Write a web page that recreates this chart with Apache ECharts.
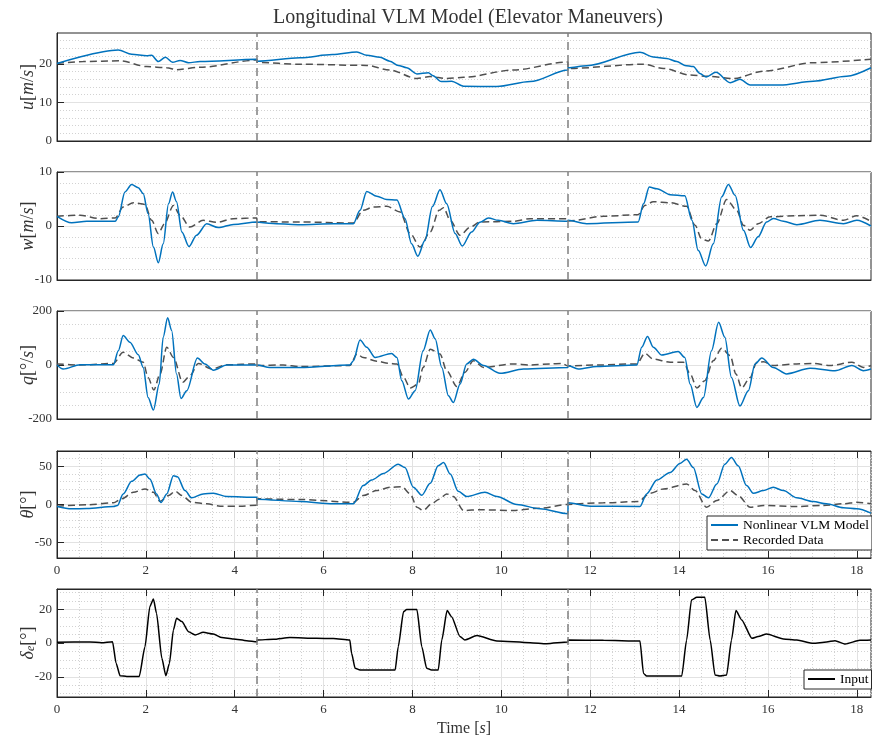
<!DOCTYPE html>
<html><head><meta charset="utf-8">
<script src="https://cdn.jsdelivr.net/npm/echarts@6/dist/echarts.min.js"></script>
<style>html,body{margin:0;padding:0;background:#fff}#c{width:872px;height:740px}</style>
</head><body><div id="c"></div>
<script>
// ---------------- DATA ----------------
const X_MAX = 18.32;
const xTicks = [0, 2, 4, 6, 8, 10, 12, 14, 16, 18];
const segBreaks = [4.5, 11.5];

const uTicks = [0, 10, 20];
const uMinor = [2, 4, 6, 8, 12, 14, 16, 18, 22, 24, 26];
const wTicks = [-10, 0, 10];
const wMinor = [-8, -6, -4, -2, 2, 4, 6, 8];
const qTicks = [-200, 0, 200];
const qMinor = [-150, -100, -50, 50, 100, 150];
const thTicks = [-50, 0, 50];
const thMinor = [-60, -40, -30, -20, -10, 10, 20, 30, 40, 60];
const deTicks = [-20, 0, 20];
const deMinor = [-30, -25, -15, -10, -5, 5, 10, 15, 25, 30];

const uModel = [[0,20.1],[1.38,23.6],[1.68,22.5],[2.02,22.1],[2.13,22.2],[2.28,20.6],[2.44,21.7],[2.6,20.4],[2.77,20.9],[2.96,20.3],[3.22,20.6],[4.5,21.2],[4.501,20.7],[5.47,21.6],[6.2,22.4],[6.75,23.1],[6.97,22.2],[7.27,21.7],[7.49,20.7],[7.68,19.6],[7.87,19.0],[8.1,17.4],[8.36,17.7],[8.45,17.0],[8.65,15.4],[8.88,15.5],[9.15,14.2],[9.9,14.1],[10.65,15.4],[11.5,18.4],[11.501,19.0],[11.92,19.5],[13.12,23.0],[13.42,21.8],[13.72,21.4],[13.95,20.6],[14.13,19.6],[14.32,19.3],[14.47,17.5],[14.61,16.6],[14.83,17.8],[15.15,15.1],[15.37,16.0],[15.6,14.5],[16.27,14.5],[17.02,15.5],[17.77,16.8],[18.32,19.0]];
const uRec = [[0,20.1],[0.59,20.6],[1.42,20.8],[2.02,19.3],[2.47,19.0],[2.69,18.5],[3.22,19.1],[4.5,21.0],[4.501,20.4],[5.47,19.9],[6.97,19.6],[7.49,18.4],[8.1,16.2],[8.4,16.7],[8.77,16.2],[9.15,16.5],[10.27,18.4],[11.5,20.5],[11.501,18.8],[13.2,19.9],[13.65,18.8],[14.25,17.1],[14.62,16.8],[15.22,16.2],[15.9,18.1],[17.02,20.3],[18.32,21.2]];

const wModel = [[0,1.8],[0.33,0.6],[0.67,0.87],[1.31,0.87],[1.38,1.7],[1.53,6.3],[1.68,7.7],[1.83,7.1],[1.94,6.0],[2.05,2.3],[2.17,-3.9],[2.28,-6.8],[2.39,-3.3],[2.51,4.1],[2.6,6.3],[2.69,4.5],[2.81,-1.1],[2.97,-3.8],[3.14,-1.7],[3.37,0.4],[3.63,-0.3],[3.97,0.3],[4.5,0.74],[4.501,0.8],[4.94,0.43],[5.47,0.25],[6.22,0.43],[6.67,0.43],[6.82,2.9],[6.97,6.4],[7.2,5.5],[7.42,4.9],[7.65,4.8],[7.83,1.4],[7.98,-3.3],[8.12,-5.6],[8.28,-2.7],[8.45,3.6],[8.62,6.7],[8.77,4.1],[8.96,-1.4],[9.12,-3.7],[9.33,-1.1],[9.52,0.7],[9.71,1.5],[9.93,1.05],[10.27,0.43],[10.8,1.05],[11.5,0.87],[11.501,1.05],[11.92,0.43],[13.08,0.74],[13.2,4.1],[13.33,7.2],[13.5,6.9],[13.8,5.8],[14.13,5.6],[14.29,1.05],[14.43,-4.5],[14.6,-7.4],[14.77,-3.3],[14.96,5.4],[15.11,7.7],[15.26,5.7],[15.45,-0.8],[15.61,-4.0],[15.78,-2.0],[15.97,0.74],[16.12,1.4],[16.35,0.87],[16.65,0.25],[17.17,1.05],[17.7,0.43],[18.0,1.05],[18.32,0]];
const wRec = [[0,1.8],[0.52,2.0],[0.97,1.36],[1.31,1.5],[1.49,3.5],[1.72,4.3],[1.98,4.0],[2.13,1.05],[2.28,-1.4],[2.42,0.43],[2.62,3.8],[2.77,2.0],[2.99,-0.2],[3.29,1.05],[3.59,0.68],[3.97,1.36],[4.5,1.5],[4.501,0.8],[5.47,0.74],[6.67,0.56],[6.89,2.9],[7.12,3.5],[7.42,3.65],[7.72,2.6],[7.95,-1.4],[8.17,-3.9],[8.4,-1.1],[8.6,2.9],[8.7,3.4],[8.85,1.05],[9.07,-1.7],[9.3,-0.2],[9.52,0.74],[10.27,0.87],[10.65,1.36],[11.5,1.36],[11.501,0.93],[12.3,1.8],[13.08,2.1],[13.23,3.8],[13.42,4.5],[13.8,4.3],[14.17,3.65],[14.36,0.12],[14.51,-2.4],[14.66,-2.8],[14.85,0.43],[15.07,4.9],[15.3,2.9],[15.45,0.12],[15.6,-0.8],[15.78,0.43],[16.05,1.7],[16.65,1.9],[17.17,2.0],[17.7,1.05],[18.0,1.9],[18.32,0.87]];

const qModel = [[0,0],[0.14,-15],[0.52,1],[1.27,1],[1.38,53],[1.49,109],[1.64,84],[1.83,38],[1.94,-9],[2.05,-120],[2.17,-167],[2.3,-71],[2.39,103],[2.49,175],[2.58,128],[2.69,-33],[2.79,-124],[2.92,-95],[3.16,26],[3.33,4],[3.52,-19],[3.82,0],[4.5,0],[4.79,-9],[5.47,-9],[6.59,0],[6.67,16],[6.82,93],[6.97,66],[7.16,28],[7.53,43],[7.65,28],[7.76,-58],[7.91,-126],[8.06,-95],[8.24,53],[8.4,130],[8.51,97],[8.66,-9],[8.81,-114],[8.92,-139],[9.07,-71],[9.22,4],[9.37,21],[9.6,-2],[9.97,-31],[10.5,-15],[11.5,-9],[11.501,-2],[11.73,-15],[12.15,-6],[13.05,0],[13.16,66],[13.29,106],[13.42,66],[13.61,37],[13.98,50],[14.13,28],[14.25,-71],[14.4,-157],[14.55,-120],[14.73,53],[14.89,158],[15.03,103],[15.18,-46],[15.37,-152],[15.56,-95],[15.71,4],[15.86,26],[16.12,-9],[16.42,-33],[16.95,-12],[17.51,-21],[17.89,-2],[18.15,-21],[18.32,-15]];
const qRec = [[0,4],[0.52,0],[1.27,6],[1.49,47],[1.72,26],[1.94,10],[2.05,-46],[2.18,-93],[2.32,-33],[2.47,66],[2.62,28],[2.83,-64],[2.99,-40],[3.18,6],[3.48,-15],[3.82,1],[4.5,4],[4.501,-2],[5.09,0],[5.47,-6],[6.59,-2],[6.75,41],[6.89,28],[7.2,14],[7.46,6],[7.65,4],[7.8,-46],[7.95,-85],[8.13,-71],[8.24,-9],[8.4,58],[8.62,41],[8.77,-21],[9.0,-80],[9.18,-27],[9.37,16],[9.6,-9],[10.27,4],[10.65,0],[11.1,4],[11.36,6],[11.5,-4],[11.501,-2],[12.15,0],[13.05,4],[13.23,43],[13.42,22],[13.8,10],[14.1,10],[14.25,-33],[14.4,-85],[14.58,-58],[14.77,16],[14.96,62],[15.15,35],[15.28,-33],[15.41,-85],[15.6,-46],[15.75,10],[15.9,12],[16.12,-2],[16.65,4],[17.02,6],[17.4,-2],[17.89,10],[18.15,-9],[18.32,-2]];

const thModel = [[0,-2.6],[0.33,-5.6],[0.67,-5.2],[1.27,-2.6],[1.36,-1.3],[1.49,13.9],[1.68,30.3],[1.87,38.5],[1.98,39.8],[2.09,33.3],[2.24,13.9],[2.34,2.6],[2.47,13.9],[2.62,37.7],[2.71,36.4],[2.88,18.2],[3.03,8.7],[3.29,13.9],[3.52,14.7],[3.82,10.4],[4.5,9.5],[4.501,6.9],[5.47,3.9],[6.22,0.9],[6.67,0.9],[6.89,24.7],[7.08,32],[7.35,40.7],[7.68,52.8],[7.83,48.5],[8.02,22.5],[8.21,12.1],[8.4,27.7],[8.58,50.7],[8.7,55],[8.85,39.8],[9.03,17.3],[9.22,10.4],[9.63,16.0],[9.9,10.4],[10.35,0],[10.87,-5.6],[11.5,-12.1],[11.501,2.2],[12.0,-2.2],[13.12,-2.6],[13.27,13.9],[13.5,32],[13.8,42],[14.02,53.7],[14.17,59.3],[14.32,48.5],[14.51,13.9],[14.66,8.7],[14.85,26.8],[15.03,52.8],[15.18,61.5],[15.33,50.7],[15.52,24.7],[15.67,14.7],[15.9,18.2],[16.12,22.5],[16.35,18.2],[16.65,8.7],[17.02,3.9],[17.32,0.9],[17.7,-4.3],[18.0,-5.6],[18.32,-11.3]];
const thRec = [[0,-2.2],[0.67,-0.4],[1.27,2.2],[1.45,7.4],[1.72,16],[1.98,20.4],[2.17,16],[2.32,3.9],[2.51,11.7],[2.66,17.3],[2.81,11.7],[3.03,3.0],[3.37,0.9],[3.67,-2.2],[4.12,-2.2],[4.5,-0.9],[4.501,7.4],[5.47,6.5],[6.67,3.0],[6.89,11.7],[7.2,18.2],[7.49,22.5],[7.76,23.4],[7.95,13.9],[8.1,-3.5],[8.24,-7.8],[8.43,0.9],[8.6,7],[8.77,13.9],[8.92,10.4],[9.15,-7.8],[9.52,-6.9],[10.27,-7.8],[10.87,-4.8],[11.5,0],[11.501,0.9],[12.3,2.2],[13.08,3.9],[13.35,14.7],[13.65,20.4],[14.17,26.8],[14.36,18.2],[14.62,-3.5],[14.85,5.2],[15.15,18.2],[15.33,11.7],[15.6,-3.5],[15.9,-1.3],[16.65,-2.6],[17.25,-1.3],[17.7,0.9],[18.0,3.0],[18.32,0.9]];

const deInput = [[0,0.4],[0.74,0.6],[1.0,0.2],[1.25,0.8],[1.33,-12],[1.42,-19.4],[1.57,-19.8],[1.85,-19.8],[1.98,-2.2],[2.09,21.6],[2.17,26.1],[2.24,17.6],[2.36,-9.1],[2.45,-19.4],[2.53,-12.1],[2.62,7.7],[2.69,14.7],[2.81,12.7],[2.96,6.7],[3.11,4.8],[3.29,6.3],[3.52,5.3],[3.71,3.2],[3.97,2.4],[4.27,1.4],[4.5,0.8],[4.501,1.8],[4.87,2.2],[5.24,3.2],[5.84,2.8],[6.22,2.6],[6.59,1.8],[6.63,-6.1],[6.71,-15],[6.82,-16],[7.61,-16],[7.68,-2.2],[7.8,18.6],[7.87,19.8],[8.1,19.8],[8.21,-2.2],[8.32,-15],[8.43,-16],[8.58,-16],[8.66,1.8],[8.78,19.2],[8.88,15.6],[9.07,3.8],[9.18,1.8],[9.45,4.4],[9.9,1.2],[10.65,0.2],[11.02,-0.4],[11.5,0.6],[11.501,1.8],[12.3,1.6],[13.12,1.2],[13.2,-18],[13.27,-19.6],[14.06,-19.6],[14.17,1.8],[14.28,25.5],[14.4,27.1],[14.58,27.1],[14.7,1.8],[14.81,-19],[14.92,-19.6],[15.07,-19],[15.18,1.8],[15.28,19.2],[15.41,13.7],[15.64,2.8],[15.78,3.8],[15.97,5.3],[16.35,2.4],[16.65,1.8],[17.02,-0.2],[17.32,0.6],[17.51,1.4],[17.74,-0.6],[18.07,1.6],[18.32,1.8]];

const modelName = 'Nonlinear VLM Model';
const recName = 'Recorded Data';
const inputName = 'Input';
const titleText = 'Longitudinal VLM Model (Elevator Maneuvers)';

// ---------------- LAYOUT / STYLE ----------------
const FONT = 'Liberation Serif';
const AX = '#262626';
const TXT = '#333333';
const BLUE = '#0072BD';
const REC = '#505050';
const gridBoxes = [
  {top: 33, height: 108}, {top: 172, height: 108}, {top: 311, height: 108},
  {top: 451, height: 107}, {top: 589, height: 108}
];
const rich = {
  i: {fontStyle: 'italic', fontFamily: FONT, fontSize: 18, color: TXT},
  sub: {fontStyle: 'italic', fontFamily: FONT, fontSize: 12, color: TXT, verticalAlign: 'bottom', lineHeight: 12}
};
const panels = [
  {min: 0, max: 28, ticks: uTicks, minor: uMinor, name: '{i|u}[{i|m}/{i|s}]', model: uModel, rec: uRec, xGrid: false},
  {min: -10, max: 10, ticks: wTicks, minor: wMinor, name: '{i|w}[{i|m}/{i|s}]', model: wModel, rec: wRec, xGrid: false},
  {min: -200, max: 200, ticks: qTicks, minor: qMinor, name: '{i|q}[°/{i|s}]', model: qModel, rec: qRec, xGrid: false},
  {min: -70, max: 70, ticks: thTicks, minor: thMinor, name: '{i|θ}[°]', model: thModel, rec: thRec, xGrid: true},
  {min: -32, max: 32, ticks: deTicks, minor: deMinor, name: '{i|δ}{sub|e}[°]', input: deInput, xGrid: true}
];

const xAxes = [], yAxes = [], series = [];
const labelStyle = {fontFamily: FONT, fontSize: 13, color: TXT};
const majorSplit = {show: true, lineStyle: {color: '#e2e2e2', width: 1, type: 'solid'}};
const minorSplit = {show: true, lineStyle: {color: '#d2d2d2', width: 1, type: [1, 2]}};

panels.forEach((p, i) => {
  if (p.xGrid) {
    xAxes.push({type: 'value', gridIndex: i, position: 'bottom', min: 0, max: X_MAX, interval: 0.5,
      axisLine: {show: false}, axisTick: {show: false}, axisLabel: {show: false}, splitLine: minorSplit});
  }
  const xi = xAxes.length;
  const mainX = {type: 'value', gridIndex: i, position: 'bottom', min: 0, max: X_MAX,
    axisLine: {show: true, onZero: false, lineStyle: {color: AX, width: 1}},
    axisTick: {show: false}, axisLabel: {show: false}, splitLine: {show: false}};
  if (p.xGrid) {
    mainX.axisTick = {show: true, inside: true, length: 7, customValues: xTicks, lineStyle: {color: AX}};
    mainX.axisLabel = {show: true, customValues: xTicks, margin: 6, ...labelStyle};
    mainX.splitLine = majorSplit;
  }
  if (i === 4) {
    mainX.name = 'Time [{i|s}]';
    mainX.nameLocation = 'middle';
    mainX.nameGap = 24;
    mainX.nameMoveOverlap = false;
    mainX.nameTextStyle = {fontFamily: FONT, fontSize: 16, color: TXT, rich: {i: {fontStyle: 'italic', fontFamily: FONT, fontSize: 16, color: TXT}}};
  }
  xAxes.push(mainX);
  if (p.xGrid) {
    xAxes.push({type: 'value', gridIndex: i, min: 0, max: X_MAX, position: 'top',
      axisLine: {show: true, onZero: false, lineStyle: {color: AX, width: 1}},
      axisTick: {show: true, inside: true, length: 7, customValues: xTicks, lineStyle: {color: AX}},
      axisLabel: {show: false}, splitLine: {show: false}});
  }
  yAxes.push({type: 'value', gridIndex: i, position: 'left', min: p.min, max: p.max,
    axisLine: {show: false}, axisTick: {show: false, customValues: p.minor},
    axisLabel: {show: false}, splitLine: minorSplit});
  const yi = yAxes.length;
  yAxes.push({type: 'value', gridIndex: i, position: 'left', min: p.min, max: p.max,
    axisLine: {show: true, onZero: false, lineStyle: {color: AX, width: 1}},
    axisTick: {show: true, inside: true, length: 7, customValues: p.ticks, lineStyle: {color: AX}},
    axisLabel: {show: true, customValues: p.ticks, margin: 5, ...labelStyle},
    splitLine: majorSplit,
    name: p.name, nameLocation: 'middle', nameGap: 20, nameMoveOverlap: false,
    nameTextStyle: {fontFamily: FONT, fontSize: 18, color: TXT, rich: rich}});

  const markLine = {silent: true, symbol: ['none', 'none'], label: {show: false},
    lineStyle: {color: '#808080', type: [8, 5], width: 1.5}, emphasis: {disabled: true},
    data: segBreaks.map(v => ({xAxis: v}))};
  if (p.model) {
    series.push({name: recName, type: 'line', xAxisIndex: xi, yAxisIndex: yi, data: p.rec,
      symbol: 'none', smooth: 0.3, smoothMonotone: 'x',
      lineStyle: {color: REC, width: 1.5, type: [7, 4]}, itemStyle: {color: REC}, z: 3,
      markLine: markLine});
    series.push({name: modelName, type: 'line', xAxisIndex: xi, yAxisIndex: yi, data: p.model,
      symbol: 'none', smooth: 0.3, smoothMonotone: 'x',
      lineStyle: {color: BLUE, width: 1.5}, itemStyle: {color: BLUE}, z: 4});
  } else {
    series.push({name: inputName, type: 'line', xAxisIndex: xi, yAxisIndex: yi, data: p.input,
      symbol: 'none', smooth: 0.2, smoothMonotone: 'x',
      lineStyle: {color: '#000', width: 1.5}, itemStyle: {color: '#000'}, z: 4,
      markLine: markLine});
  }
});

const legendBase = {orient: 'vertical', backgroundColor: '#fff', borderColor: AX, borderWidth: 1,
  itemWidth: 27, itemHeight: 14, itemGap: 1, selectedMode: false,
  itemStyle: {opacity: 0},
  textStyle: {fontFamily: FONT, fontSize: 13.5, color: '#000'}, z: 10};

const option = {
  animation: false,
  backgroundColor: '#fff',
  title: {text: titleText, left: 268, top: 3,
    textStyle: {fontFamily: FONT, fontSize: 20, fontWeight: 'normal', color: TXT}},
  grid: gridBoxes.map(g => ({left: 57, right: 1, top: g.top, height: g.height,
    outerBoundsMode: 'none', containLabel: false,
    show: true, borderColor: AX, borderWidth: 1, backgroundColor: 'transparent'})),
  xAxis: xAxes,
  yAxis: yAxes,
  legend: [
    {...legendBase, left: 707, top: 516, padding: [2, 3, 3, 3], data: [modelName, recName]},
    {...legendBase, left: 804, top: 670, padding: [2, 3, 3, 3], data: [inputName]}
  ],
  series: series
};
const chart = echarts.init(document.getElementById('c'));
chart.setOption(option);
</script></body></html>
